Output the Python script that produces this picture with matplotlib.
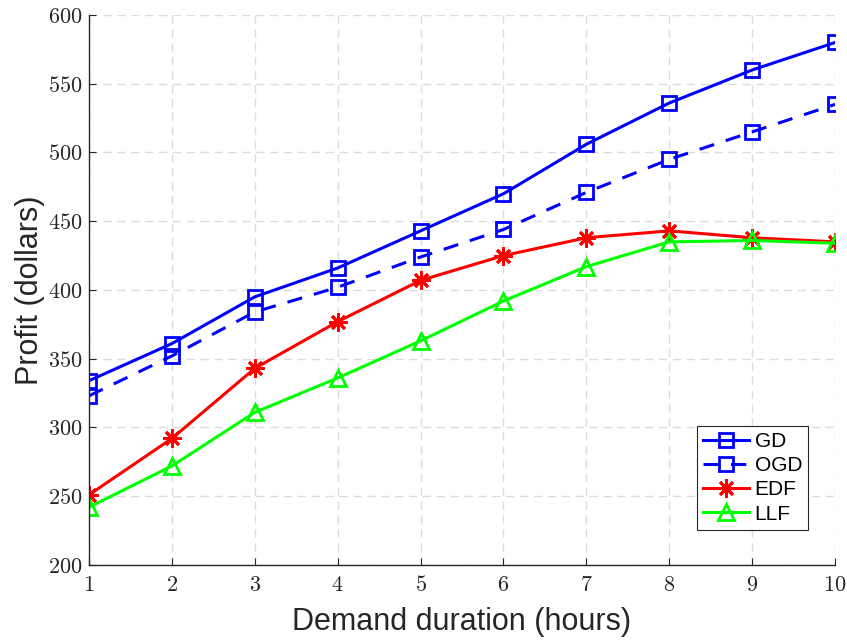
import matplotlib
matplotlib.use("Agg")
import matplotlib.pyplot as plt
from matplotlib.ticker import FuncFormatter

plt.rcParams['mathtext.fontset'] = 'cm'
plt.rcParams['font.family'] = ['Liberation Sans', 'DejaVu Sans']

hours = [1, 2, 3, 4, 5, 6, 7, 8, 9, 10]
gd = [334, 361, 395, 416, 443, 470, 506, 536, 560, 580]
ogd = [323, 352, 384, 402, 424, 444, 471, 495, 515, 535]
edf = [251, 292, 343, 377, 407, 425, 438, 443, 438, 435]
llf = [242, 272, 311, 336, 363, 392, 417, 435, 436, 434]

fig = plt.figure(figsize=(8.47, 6.43), dpi=100)
ax = fig.add_axes([0.105, 0.1213, 0.881, 0.8554])

lw = 2.2
ms = 10
ax.plot(hours, gd, '-s', color=(0, 0, 1), lw=lw, ms=ms, mfc='none', mew=2, label='GD')
ax.plot(hours, ogd, '--s', color=(0, 0, 1), lw=lw, ms=ms, mfc='none', mew=2, label='OGD', dashes=(5, 4))
ax.plot(hours, edf, '-', marker=(8, 2, 0), color=(1, 0, 0), lw=lw, ms=13, mew=2, label='EDF')
ax.plot(hours, llf, '-^', color=(0, 1, 0), lw=lw, ms=12, mfc='none', mew=2, label='LLF')

ax.set_xlim(1, 10)
ax.set_ylim(200, 600)
ax.set_xticks(hours)
ax.set_yticks(range(200, 601, 50))
fmt = FuncFormatter(lambda v, p: r'$%d$' % v)
ax.xaxis.set_major_formatter(fmt)
ax.yaxis.set_major_formatter(fmt)
ax.tick_params(direction='in', labelsize=16, length=5, color='#262626', labelcolor='#262626')
ax.tick_params(axis='x', pad=7)
ax.tick_params(axis='y', pad=5)

ax.grid(True, ls=(0, (6, 4)), color='#dcdcdc', lw=1)
ax.set_axisbelow(True)
for s in ['top', 'right']:
    ax.spines[s].set_visible(False)
for s in ['left', 'bottom']:
    ax.spines[s].set_color('#262626')
    ax.spines[s].set_linewidth(1)

ax.set_xlabel('Demand duration (hours)', fontsize=22, color='#262626', labelpad=8)
ax.set_ylabel('Profit (dollars)', fontsize=22, color='#262626', labelpad=2)

leg = ax.legend(loc='lower right', bbox_to_anchor=(0.964, 0.064), fontsize=15,
                frameon=True, fancybox=False, edgecolor='#262626', framealpha=1,
                handlelength=2.2, borderpad=0.3, labelspacing=0.25, handletextpad=0.25,
                borderaxespad=0)
leg.get_frame().set_linewidth(0.8)

fig.savefig('out.png', dpi=100)
